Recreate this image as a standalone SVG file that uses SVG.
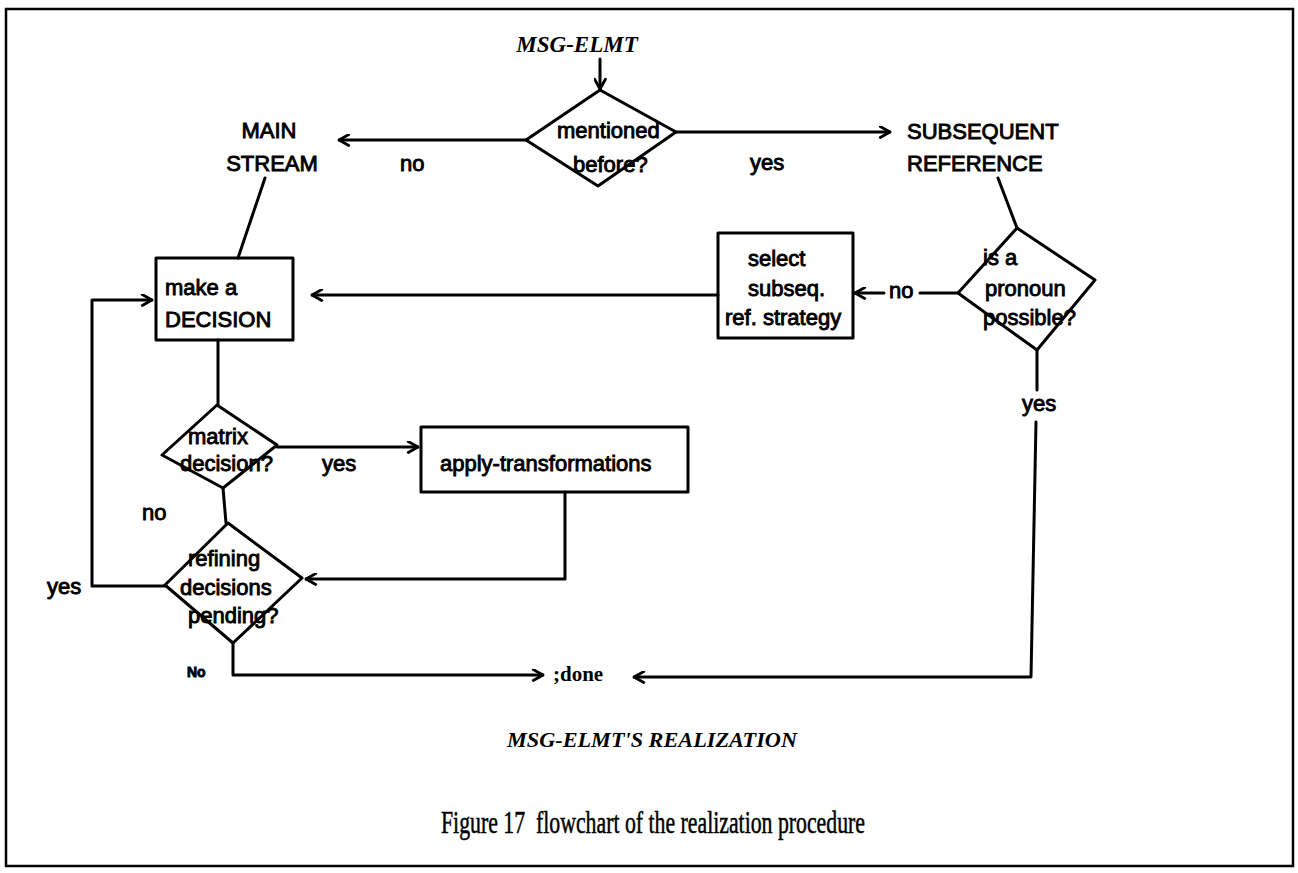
<svg xmlns="http://www.w3.org/2000/svg" width="1298" height="873" viewBox="0 0 1298 873">
<defs>
<marker id="arr" viewBox="0 0 12 12" refX="11" refY="6" markerWidth="13" markerHeight="13" markerUnits="userSpaceOnUse" orient="auto">
<path d="M2,1 L11,6 L2,11" fill="none" stroke="#000" stroke-width="2.6" stroke-linecap="round" stroke-linejoin="round"/>
</marker>
<style>
.t{font-family:"Liberation Sans",Arial,Helvetica,sans-serif;font-size:22px;fill:#000;stroke:#000;stroke-width:0.9}
.c{text-anchor:middle}
.ln{fill:none;stroke:#000;stroke-width:3;stroke-linecap:round;stroke-linejoin:round}
.shape{fill:none;stroke:#000;stroke-width:3;stroke-linejoin:round}
.serif{font-family:"Liberation Serif","Times New Roman",serif;fill:#000}
</style>
</defs>
<rect width="1298" height="873" fill="#fff"/>
<rect x="6" y="9" width="1287" height="857" fill="none" stroke="#000" stroke-width="2.5"/>

<g id="connectors">
<path class="ln" d="M600,59 L600,89" marker-end="url(#arr)"/>
<path class="ln" d="M526,140 L339,140" marker-end="url(#arr)"/>
<path class="ln" d="M676,132 L890,132" marker-end="url(#arr)"/>
<path class="ln" d="M265,178 L238,258" stroke-width="2.5"/>
<path class="ln" d="M998,178 L1017,228" stroke-width="2.5"/>
<path class="ln" d="M958,293 L920,293"/>
<path class="ln" d="M884,293 L855,293" marker-end="url(#arr)"/>
<path class="ln" d="M718,295 L312,295" marker-end="url(#arr)"/>
<path class="ln" d="M218,340 L218,405" stroke-width="2.5"/>
<path class="ln" d="M277,447 L418,447" marker-end="url(#arr)"/>
<path class="ln" d="M223,488 L226,523"/>
<path class="ln" d="M565,492 L565,579 L306,579" marker-end="url(#arr)"/>
<path class="ln" d="M165,586 L92,586 L92,300 L152,300" marker-end="url(#arr)"/>
<path class="ln" d="M233,643 L233,675 L543,675" marker-end="url(#arr)"/>
<path class="ln" d="M1037,350 L1037,390"/>
<path class="ln" d="M1036,422 L1031,677 L634,677" marker-end="url(#arr)"/>
<text class="t" x="400" y="171">no</text>
<text class="t" x="750" y="170">yes</text>
<text class="t" x="889" y="298">no</text>
<text class="t" x="322" y="471">yes</text>
<text class="t" x="142" y="520">no</text>
<text class="t" x="47" y="594">yes</text>
<text class="t" x="187" y="677" style="font-size:14px;font-weight:bold">No</text>
<text class="t" x="1022" y="411">yes</text>
</g>

<g id="msg-elmt">
<text class="serif" x="577" y="52" text-anchor="middle" font-size="23" font-style="italic" font-weight="bold">MSG-ELMT</text>
</g>

<g id="mentioned-before">
<polygon class="shape" points="600,90 676,132 598,186 526,140"/>
<text class="t" x="557" y="138">mentioned</text>
<text class="t" x="573" y="172">before?</text>
</g>

<g id="main-stream">
<text class="t c" x="269" y="138">MAIN</text>
<text class="t c" x="272" y="171">STREAM</text>
</g>

<g id="subsequent-reference">
<text class="t" x="907" y="139">SUBSEQUENT</text>
<text class="t" x="907" y="171">REFERENCE</text>
</g>

<g id="make-decision">
<rect class="shape" x="156" y="258" width="137" height="82"/>
<text class="t" x="165" y="295">make a</text>
<text class="t" x="165" y="327">DECISION</text>
</g>

<g id="select-strategy">
<rect class="shape" x="718" y="233" width="135" height="105"/>
<text class="t" x="748" y="266">select</text>
<text class="t" x="748" y="296">subseq.</text>
<text class="t" x="725" y="325">ref. strategy</text>
</g>

<g id="pronoun-possible">
<polygon class="shape" points="1017,228 1095,280 1037,350 958,293"/>
<text class="t" x="983" y="265">is a</text>
<text class="t" x="985" y="296">pronoun</text>
<text class="t" x="983" y="325">possible?</text>
</g>

<g id="matrix-decision">
<polygon class="shape" points="217,405 277,445 223,488 162,455"/>
<text class="t" x="188" y="444">matrix</text>
<text class="t" x="180" y="471">decision?</text>
</g>

<g id="apply-transformations">
<rect class="shape" x="421" y="427" width="267" height="65"/>
<text class="t" x="440" y="471">apply-transformations</text>
</g>

<g id="refining-decisions">
<polygon class="shape" points="228,523 302,578 233,643 165,585"/>
<text class="t" x="188" y="566">refining</text>
<text class="t" x="180" y="595">decisions</text>
<text class="t" x="188" y="623">pending?</text>
</g>

<g id="done">
<text class="serif" x="553" y="681" font-size="21" font-weight="bold">;done</text>
</g>

<g id="realization-caption">
<text class="serif" x="652" y="747" text-anchor="middle" font-size="22" font-style="italic" font-weight="bold" textLength="290" lengthAdjust="spacingAndGlyphs">MSG-ELMT'S REALIZATION</text>
</g>

<g id="figure-caption">
<text class="serif" x="441" y="833" font-size="31" stroke="#000" stroke-width="0.5" textLength="424" lengthAdjust="spacingAndGlyphs" xml:space="preserve">Figure 17  flowchart of the realization procedure</text>
</g>
</svg>
